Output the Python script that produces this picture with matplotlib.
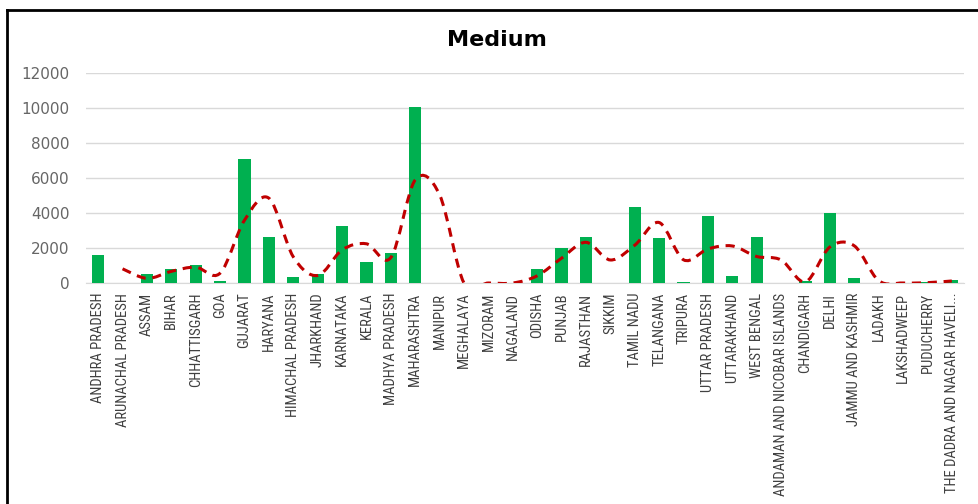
import matplotlib.pyplot as plt
import matplotlib.font_manager as fm
from matplotlib.path import Path
from matplotlib.patches import PathPatch
import pandas as pd
import numpy as np

states = ['ANDHRA PRADESH', 'ARUNACHAL PRADESH', 'ASSAM', 'BIHAR', 'CHHATTISGARH', 'GOA',
          'GUJARAT', 'HARYANA', 'HIMACHAL PRADESH', 'JHARKHAND', 'KARNATAKA', 'KERALA',
          'MADHYA PRADESH', 'MAHARASHTRA', 'MANIPUR', 'MEGHALAYA', 'MIZORAM', 'NAGALAND',
          'ODISHA', 'PUNJAB', 'RAJASTHAN', 'SIKKIM', 'TAMIL NADU', 'TELANGANA', 'TRIPURA',
          'UTTAR PRADESH', 'UTTARAKHAND', 'WEST BENGAL', 'ANDAMAN AND NICOBAR ISLANDS',
          'CHANDIGARH', 'DELHI', 'JAMMU AND KASHMIR', 'LADAKH', 'LAKSHADWEEP', 'PUDUCHERRY',
          'THE DADRA AND NAGAR HAVELI...']
medium = [1620, 0, 530, 800, 1010, 115,
          7060, 2630, 360, 495, 3280, 1200,
          1710, 10070, 0, 0, 0, 0,
          820, 2020, 2630, 0, 4320, 2590, 60,
          3830, 400, 2630, 0,
          135, 3980, 270, 0, 0, 40,
          190]

# 2 per. moving average trendline
trend = pd.Series(medium).rolling(2).mean()

names = set(f.name for f in fm.fontManager.ttflist)
lab_font = 'DejaVu Sans'
for cand in ['Liberation Sans Narrow', 'Roboto Condensed', 'Open Sans Condensed', 'DejaVu Sans Condensed']:
    if cand in names:
        lab_font = cand
        break

fig = plt.figure(figsize=(9.79, 5.04), dpi=100)
ax = fig.add_axes([0.0878, 0.4385, 0.8969, 0.4167])

x = np.arange(len(states))
ax.bar(x, medium, width=0.5, color='#00B050', zorder=3)

# smoothed line through the trend points (Excel style)
tx = x[1:].astype(float)
ty = trend.values[1:]
verts = [(tx[0], ty[0])]
codes = [Path.MOVETO]
for i in range(len(tx) - 1):
    p0 = (tx[max(i - 1, 0)], ty[max(i - 1, 0)])
    p1 = (tx[i], ty[i])
    p2 = (tx[i + 1], ty[i + 1])
    p3 = (tx[min(i + 2, len(tx) - 1)], ty[min(i + 2, len(tx) - 1)])
    c1 = (p1[0] + (p2[0] - p0[0]) / 6, p1[1] + (p2[1] - p0[1]) / 6)
    c2 = (p2[0] - (p3[0] - p1[0]) / 6, p2[1] - (p3[1] - p1[1]) / 6)
    verts += [c1, c2, p2]
    codes += [Path.CURVE4] * 3
ax.add_patch(PathPatch(Path(verts, codes), facecolor='none', edgecolor='#C00000',
                       linewidth=2.2, linestyle=(0, (3, 2.2)), zorder=4))

ax.set_xlim(-0.5, len(states) - 0.5)
ax.set_ylim(0, 12000)
ax.set_yticks(range(0, 12001, 2000))
ax.yaxis.grid(True, color='#D9D9D9', linewidth=1, zorder=0)
ax.tick_params(axis='y', length=0, labelsize=11, labelcolor='#666666', pad=12)
ax.tick_params(axis='x', length=0, pad=7)
ax.set_xticks(x)
ax.set_xticklabels(states, rotation=90, fontsize=10.5, color='#404040',
                   family=lab_font, fontstretch='condensed')
for s in ['top', 'right', 'left']:
    ax.spines[s].set_visible(False)
ax.spines['bottom'].set_color('#D9D9D9')

fig.text(0.508, 0.92, 'Medium', ha='center', va='center', fontsize=16, fontweight='bold')

# outer chart border
fig.add_artist(plt.Line2D([7 / 979, 7 / 979], [0, 1 - 10 / 504], color='black', linewidth=2))
fig.add_artist(plt.Line2D([7 / 979, 1], [1 - 10 / 504, 1 - 10 / 504], color='black', linewidth=2))

plt.savefig('out.png')
